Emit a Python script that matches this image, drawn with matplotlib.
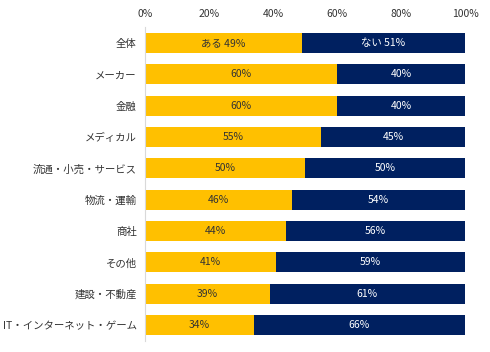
import matplotlib
matplotlib.use("Agg")
import matplotlib.pyplot as plt

plt.rcParams['font.family'] = ['Noto Sans CJK JP', 'DejaVu Sans']

categories = ["全体", "メーカー", "金融", "メディカル", "流通・小売・サービス",
              "物流・運輸", "商社", "その他", "建設・不動産", "IT・インターネット・ゲーム"]
yes_vals = [49, 60, 60, 55, 50, 46, 44, 41, 39, 34]
no_vals = [51, 40, 40, 45, 50, 54, 56, 59, 61, 66]
xticks = [0, 20, 40, 60, 80, 100]

yellow = "#FFC000"
navy = "#002060"

fig = plt.figure(figsize=(4.9, 3.52), dpi=100)
ax = fig.add_axes([0.296, 0.032, 0.653, 0.89])

y = list(range(len(categories)))
ax.barh(y, yes_vals, height=0.64, color=yellow)
ax.barh(y, no_vals, left=yes_vals, height=0.64, color=navy)

for i in y:
    a = f"ある {yes_vals[i]}%" if i == 0 else f"{yes_vals[i]}%"
    b = f"ない {no_vals[i]}%" if i == 0 else f"{no_vals[i]}%"
    ax.text(yes_vals[i] / 2, i, a, ha="center", va="center", fontsize=7.5, color="#333333")
    ax.text(yes_vals[i] + no_vals[i] / 2, i, b, ha="center", va="center", fontsize=7.5, color="white")

ax.set_xlim(0, 100)
ax.set_ylim(len(categories) - 0.5, -0.5)
ax.set_yticks(y)
ax.set_yticklabels(categories, fontsize=7.5, color="#333333")
ax.set_xticks(xticks)
ax.set_xticklabels([f"{t}%" for t in xticks], fontsize=7.5, color="#333333")
ax.xaxis.tick_top()
ax.tick_params(length=0, pad=6)
for s in ["top", "right", "bottom"]:
    ax.spines[s].set_visible(False)
ax.spines["left"].set_color("#d9d9d9")

fig.savefig("out.png", dpi=100)
